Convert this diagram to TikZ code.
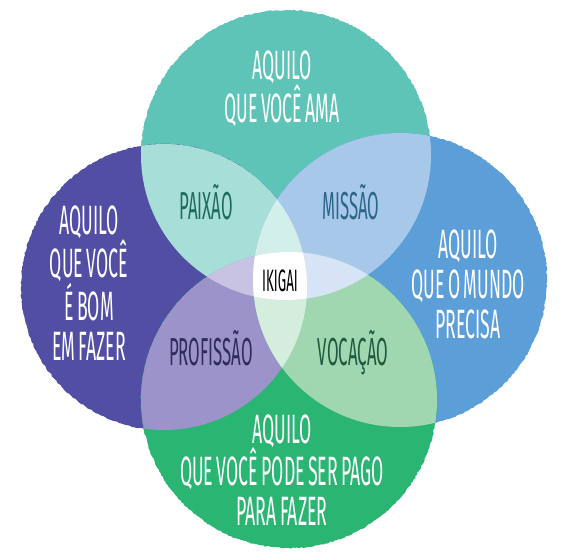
\documentclass[tikz,border=0pt]{standalone}
\usepackage{fontspec}
\newfontfamily\handfont{Fira Sans}[FakeStretch=0.43,WordSpace=0.75]
\usetikzlibrary{positioning}
\usetikzlibrary{decorations.pathmorphing}

\definecolor{ama}{HTML}{5EC4B8}
\definecolor{bom}{HTML}{514EA3}
\definecolor{mundo}{HTML}{5B9ED8}
\definecolor{pago}{HTML}{2AB573}
\definecolor{paixao}{HTML}{A7DED7}
\definecolor{missao}{HTML}{A8C8EA}
\definecolor{profissao}{HTML}{9B93CA}
\definecolor{vocacao}{HTML}{A0D7B1}
\definecolor{triT}{HTML}{D3EFEC}
\definecolor{triL}{HTML}{C8C3E3}
\definecolor{triR}{HTML}{D6E4F5}
\definecolor{triB}{HTML}{D4EDDC}
\definecolor{paixaotxt}{HTML}{1E6B5F}
\definecolor{missaotxt}{HTML}{2B6689}
\definecolor{profissaotxt}{HTML}{2F2B5B}
\definecolor{vocacaotxt}{HTML}{1F5A40}

\begin{document}
\begin{tikzpicture}[x=1pt,y=-1pt,
        rough/.style={decorate,decoration={random steps,segment length=2pt,amplitude=0.6pt}},
        bigtext/.style={font=\handfont\fontsize{41}{40}\selectfont,text=white,align=center,inner sep=0pt},
        petal/.style={font=\handfont\fontsize{39}{40}\selectfont,inner sep=0pt,anchor=base}]
            \useasboundingbox (0,0) rectangle (564,559);

            \coordinate (T) at (286,155);
            \coordinate (L) at (164,287);
            \coordinate (R) at (400,280);
            \coordinate (B) at (289,400);
            \def\rT{145}
            \def\rL{143}
            \def\rR{147}
            \def\rB{148}

            % the four circles
            \fill[ama,rough] (T) circle (\rT);
            \fill[bom,rough] (L) circle (\rL);
            \fill[mundo,rough] (R) circle (\rR);
            \fill[pago,rough] (B) circle (\rB);

            % two at a time
            \begin{scope}
                \clip (T) circle (\rT);
                \fill[paixao] (L) circle (\rL);
                \fill[missao] (R) circle (\rR);
            \end{scope}
            \begin{scope}
                \clip (B) circle (\rB);
                \fill[profissao] (L) circle (\rL);
                \fill[vocacao] (R) circle (\rR);
            \end{scope}

            % three at a time
            \begin{scope}
                \clip (L) circle (\rL);
                \clip (R) circle (\rR);
                \fill[triT] (T) circle (\rT);
                \fill[triB] (B) circle (\rB);
            \end{scope}
            \begin{scope}
                \clip (T) circle (\rT);
                \clip (B) circle (\rB);
                \fill[triL] (L) circle (\rL);
                \fill[triR] (R) circle (\rR);
            \end{scope}

            % all four
            \begin{scope}
                \clip (T) circle (\rT);
                \clip (B) circle (\rB);
                \clip (L) circle (\rL);
                \fill[white] (R) circle (\rR);
            \end{scope}

            \node[bigtext] (amatxt) at (282,89) {AQUILO\\QUE VOCÊ AMA};
            \node[bigtext] (bomtxt) at (89,283) {AQUILO\\QUE VOCÊ\\É BOM\\EM FAZER};
            \node[bigtext] (mundotxt) at (468,284) {AQUILO\\QUE O MUNDO\\PRECISA};
            \node[bigtext] (pagotxt) at (282,470) {AQUILO\\QUE VOCÊ PODE SER PAGO\\PARA FAZER};

            \node[petal,text=paixaotxt] (paixaotxt) at (206,219) {PAIXÃO};
            \node[petal,text=missaotxt] (missaotxt) at (351,219) {MISSÃO};
            \node[petal,text=profissaotxt] (profissaotxt) at (211,365) {PROFISSÃO};
            \node[petal,text=vocacaotxt] (vocacaotxt) at (353,365) {VOCAÇÃO};

            \node[font=\handfont\fontsize{31}{30}\selectfont,inner sep=0pt] (ikigai) at (280,281) {IKIGAI};
        \end{tikzpicture}
\end{document}
